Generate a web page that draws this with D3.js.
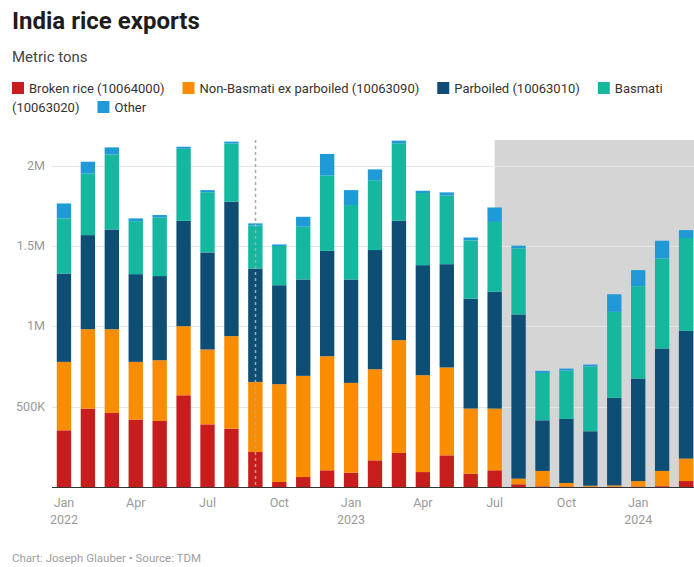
<!DOCTYPE html>
<html>
<head>
<meta charset="utf-8">
<script src="https://cdn.jsdelivr.net/npm/d3@7"></script>
<style>
  body { margin: 0; background: #fff; }
  svg { font-family: Roboto, "Noto Sans", sans-serif; }
</style>
</head>
<body>
<svg id="chart" width="694" height="567"></svg>
<script>
// monthly exports, metric tons
var months = ["2022-01","2022-02","2022-03","2022-04","2022-05","2022-06","2022-07","2022-08","2022-09",
  "2022-10","2022-11","2022-12","2023-01","2023-02","2023-03","2023-04","2023-05","2023-06","2023-07",
  "2023-08","2023-09","2023-10","2023-11","2023-12","2024-01","2024-02","2024-03"];

var broken     = [353000,488000,461000,420000,411000,571000,390000,363000,218000,31000,62000,104000,89000,166000,212000,93000,197000,83000,104000,17000,4000,3000,2000,2000,3000,5000,37000];
var nonBasmati = [426000,494000,521000,359000,378000,430000,466000,576000,436000,609000,630000,710000,559000,567000,702000,603000,547000,405000,384000,35000,96000,22000,6000,8000,34000,95000,140000];
var parboiled  = [550000,586000,621000,546000,524000,656000,604000,837000,706000,616000,600000,656000,644000,742000,743000,685000,643000,685000,727000,1022000,315000,399000,339000,545000,638000,762000,795000];
var basmati    = [343000,384000,467000,330000,365000,448000,375000,362000,268000,244000,328000,470000,463000,435000,483000,449000,428000,362000,435000,411000,295000,301000,403000,535000,575000,561000,578000];
var other      = [93000,73000,44000,17000,15000,13000,13000,12000,13000,10000,62000,133000,93000,67000,16000,14000,19000,18000,90000,17000,13000,12000,12000,110000,100000,110000,49000];

var seriesNames = ["Broken rice (10064000)", "Non-Basmati ex parboiled (10063090)", "Parboiled (10063010)", "Basmati (10063020)", "Other"];
var seriesColors = ["#c71e1d", "#fa8c00", "#0e4d74", "#15b79e", "#1f9ad6"];

var yTicks = [500000, 1000000, 1500000, 2000000];
var yTickLabels = ["500K", "1M", "1.5M", "2M"];

var xTickMonths = ["2022-01","2022-04","2022-07","2022-10","2023-01","2023-04","2023-07","2023-10","2024-01"];
var xTickLabels = ["Jan","Apr","Jul","Oct","Jan","Apr","Jul","Oct","Jan"];
var xTickYears  = ["2022","","","","2023","","","","2024"];

var banMonth = "2022-09";     // dashed marker
var shadeFrom = "2023-07";    // grey period

var keys = ["broken", "nonBasmati", "parboiled", "basmati", "other"];
var table = months.map(function(m, i) {
  return {month: m, broken: broken[i], nonBasmati: nonBasmati[i], parboiled: parboiled[i], basmati: basmati[i], other: other[i]};
});

var svg = d3.select("#chart");
var W = 694;

var x = d3.scaleBand()
  .domain(months)
  .range([52, 698])
  .paddingInner(0.4)
  .paddingOuter(0.2);

var y = d3.scaleLinear()
  .domain([0, 2160000])
  .range([487, 140]);

// title block
svg.append("text")
  .attr("x", 12).attr("y", 29)
  .attr("font-size", 24).attr("font-weight", 700)
  .attr("fill", "#1d1d1d")
  .text("India rice exports");

svg.append("text")
  .attr("x", 12).attr("y", 62)
  .attr("font-size", 15)
  .attr("fill", "#444")
  .text("Metric tons");

// legend, words flow and wrap like the original
var legend = svg.append("g").attr("font-size", 13).attr("fill", "#333");
var lx = 12, ly = 93, maxW = 686, sw = 12;
function measure(s) {
  var t = legend.append("text").text(s);
  var w = t.node().getComputedTextLength();
  t.remove();
  return w;
}
var spaceW = measure("a b") - measure("ab");
seriesNames.forEach(function(name, i) {
  var words = name.split(" ");
  if (lx + sw + 5 + measure(words[0]) > maxW) { lx = 12; ly += 19; }
  legend.append("rect")
    .attr("x", lx).attr("y", ly - 11)
    .attr("width", sw).attr("height", sw)
    .attr("fill", seriesColors[i]);
  lx += sw + 5;
  words.forEach(function(w, j) {
    var ww = measure(w);
    if (j > 0) {
      if (lx + spaceW + ww > maxW) { lx = 12; ly += 19; }
      else lx += spaceW;
    }
    legend.append("text").attr("x", lx).attr("y", ly).text(w);
    lx += ww;
  });
  lx += 18;
});

// shaded period
svg.append("rect")
  .attr("x", x(shadeFrom) + x.bandwidth() / 2)
  .attr("y", y.range()[1])
  .attr("width", W - (x(shadeFrom) + x.bandwidth() / 2))
  .attr("height", y.range()[0] - y.range()[1])
  .attr("fill", "#d5d5d5");

// grid
svg.append("g")
  .selectAll("line")
  .data(yTicks)
  .enter().append("line")
    .attr("x1", 52).attr("x2", W)
    .attr("y1", function(d) { return Math.round(y(d)) + 0.5; })
    .attr("y2", function(d) { return Math.round(y(d)) + 0.5; })
    .attr("stroke", "#e6e6e6");

svg.append("g")
  .attr("font-size", 12.5).attr("fill", "#9a9a9a")
  .attr("text-anchor", "end")
  .selectAll("text")
  .data(yTicks)
  .enter().append("text")
    .attr("x", 45)
    .attr("y", function(d) { return y(d) + 4; })
    .text(function(d, i) { return yTickLabels[i]; });

// bars
var stacked = d3.stack().keys(keys)(table);
svg.append("g")
  .selectAll("g")
  .data(stacked)
  .enter().append("g")
    .attr("fill", function(d, i) { return seriesColors[i]; })
  .selectAll("rect")
  .data(function(d) { return d; })
  .enter().append("rect")
    .attr("x", function(d) { return x(d.data.month); })
    .attr("y", function(d) { return y(d[1]); })
    .attr("width", x.bandwidth())
    .attr("height", function(d) { return Math.max(0, y(d[0]) - y(d[1])); });

// dashed marker
var bx = Math.round(x(banMonth) + x.bandwidth() / 2) + 0.5;
svg.append("line")
  .attr("x1", bx).attr("x2", bx)
  .attr("y1", y.range()[1]).attr("y2", y.range()[0])
  .attr("stroke", "#a9a9a9")
  .attr("stroke-width", 1.5)
  .attr("stroke-dasharray", "3,3");

// x axis
svg.append("line")
  .attr("x1", 52).attr("x2", W)
  .attr("y1", 487.5).attr("y2", 487.5)
  .attr("stroke", "#333");

var xt = svg.append("g")
  .attr("font-size", 12.5).attr("fill", "#9a9a9a")
  .attr("text-anchor", "middle");
xTickMonths.forEach(function(m, i) {
  var cx = x(m) + x.bandwidth() / 2;
  xt.append("text").attr("x", cx).attr("y", 507).text(xTickLabels[i]);
  if (xTickYears[i]) xt.append("text").attr("x", cx).attr("y", 524).text(xTickYears[i]);
});

// footer
svg.append("text")
  .attr("x", 12).attr("y", 562)
  .attr("font-size", 11.5).attr("fill", "#a0a0a0")
  .text("Chart: Joseph Glauber \u2022 Source: TDM");
</script>
</body>
</html>
